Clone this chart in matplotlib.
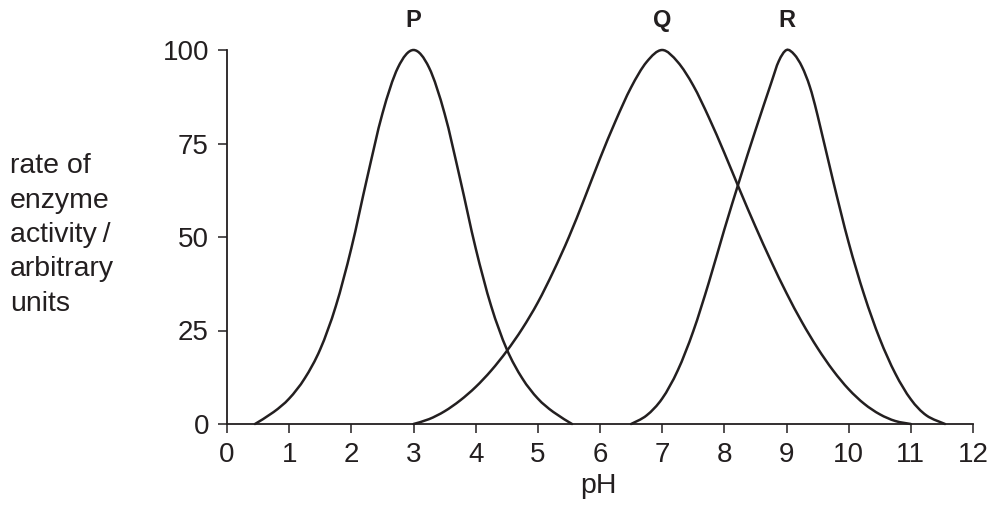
import matplotlib
matplotlib.use("Agg")
import matplotlib.pyplot as plt
from matplotlib.path import Path
from matplotlib.patches import PathPatch

# values (pH, rate of activity)
p_ph = [0.45, 0.75, 1.0, 1.25, 1.5, 1.75, 2.0, 2.25, 2.5, 2.75, 3.0,
        3.25, 3.5, 3.75, 4.0, 4.25, 4.5, 4.75, 5.0, 5.25, 5.55]
p_rate = [0, 3.2, 6.8, 12.2, 20, 31.5, 47, 65.5, 83, 95.3, 100,
          95.3, 83, 65.5, 47, 31.5, 20, 12.2, 6.8, 3.2, 0]

q_ph = [3.0, 3.25, 3.5, 3.75, 4.0, 4.25, 4.5, 4.75, 5.0, 5.25, 5.5, 5.75, 6.0, 6.25,
        6.5, 6.75, 7.0, 7.25, 7.5, 7.75, 8.0, 8.25, 8.5, 8.75, 9.0,
        9.25, 9.5, 9.75, 10.0, 10.25, 10.5, 10.75, 11.0]
q_rate = [0, 1.3, 3.4, 6.3, 9.9, 14.3, 19.5, 25.5, 32.5, 40.8, 50, 60.3, 71, 81,
          90, 96.8, 100, 96.8, 90.5, 82, 72.5, 62.5, 52.8, 43.6, 35,
          27.2, 20.3, 14.3, 9.3, 5.4, 2.6, 0.8, 0]

r_ph = [6.5, 6.75, 7.0, 7.25, 7.5, 7.75, 8.0, 8.25, 8.5, 8.75, 8.875, 9.0,
        9.125, 9.25, 9.375, 9.5, 9.75, 10.0, 10.25, 10.5, 10.75, 11.0, 11.25, 11.55]
r_rate = [0, 2.3, 6.8, 14.3, 24.8, 37.8, 52, 65.5, 78.5, 91, 97, 100,
          98.8, 95.5, 90.2, 82.5, 65, 48.5, 34.5, 22.8, 13.5, 6.6, 2.3, 0]

curves = [("P", p_ph, p_rate, 3), ("Q", q_ph, q_rate, 7), ("R", r_ph, r_rate, 9)]
x_ticks = list(range(0, 13))
y_ticks = [0, 25, 50, 75, 100]

ink = "#231f20"


def smooth_path(xs, ys):
    # draw a smooth line through the read points (Catmull-Rom as cubic Beziers)
    pts = list(zip(xs, ys))
    verts = [pts[0]]
    codes = [Path.MOVETO]
    n = len(pts)
    for i in range(n - 1):
        p0 = pts[max(i - 1, 0)]
        p1 = pts[i]
        p2 = pts[i + 1]
        p3 = pts[min(i + 2, n - 1)]
        c1 = (p1[0] + (p2[0] - p0[0]) / 6, p1[1] + (p2[1] - p0[1]) / 6)
        c2 = (p2[0] - (p3[0] - p1[0]) / 6, p2[1] - (p3[1] - p1[1]) / 6)
        verts += [c1, c2, p2]
        codes += [Path.CURVE4] * 3
    return Path(verts, codes)


plt.rcParams["font.family"] = ["Liberation Sans", "DejaVu Sans"]

fig = plt.figure(figsize=(9.93, 5.29), dpi=100)
ax = fig.add_axes([227 / 993, 105 / 529, 746 / 993, 374 / 529])

for name, xs, ys, peak in curves:
    ax.add_patch(PathPatch(smooth_path(xs, ys), fill=False, edgecolor=ink,
                           lw=1.8, capstyle="round", clip_on=False))
    ax.text(peak, 107.8, name, ha="center", va="center", fontsize=17,
            fontweight="bold", color=ink, clip_on=False)

ax.set_xlim(0, 12)
ax.set_ylim(0, 100)
ax.set_xticks(x_ticks)
ax.set_yticks(y_ticks)
ax.spines["top"].set_visible(False)
ax.spines["right"].set_visible(False)
for s in ("left", "bottom"):
    ax.spines[s].set_linewidth(1.3)
    ax.spines[s].set_color(ink)
ax.tick_params(direction="out", length=6.5, width=1.1, color=ink,
               labelsize=20, labelcolor=ink, pad=6.5)

fig.text(10 / 993, 1 - 235 / 529,
         "rate of\nenzyme\nactivity\u2009/\narbitrary\nunits",
         ha="left", va="center", fontsize=20.5, color=ink, linespacing=1.42)
fig.text(598 / 993, 1 - 486 / 529, "pH", ha="center", va="center",
         fontsize=20.5, color=ink)

fig.savefig("out.png", dpi=100)
